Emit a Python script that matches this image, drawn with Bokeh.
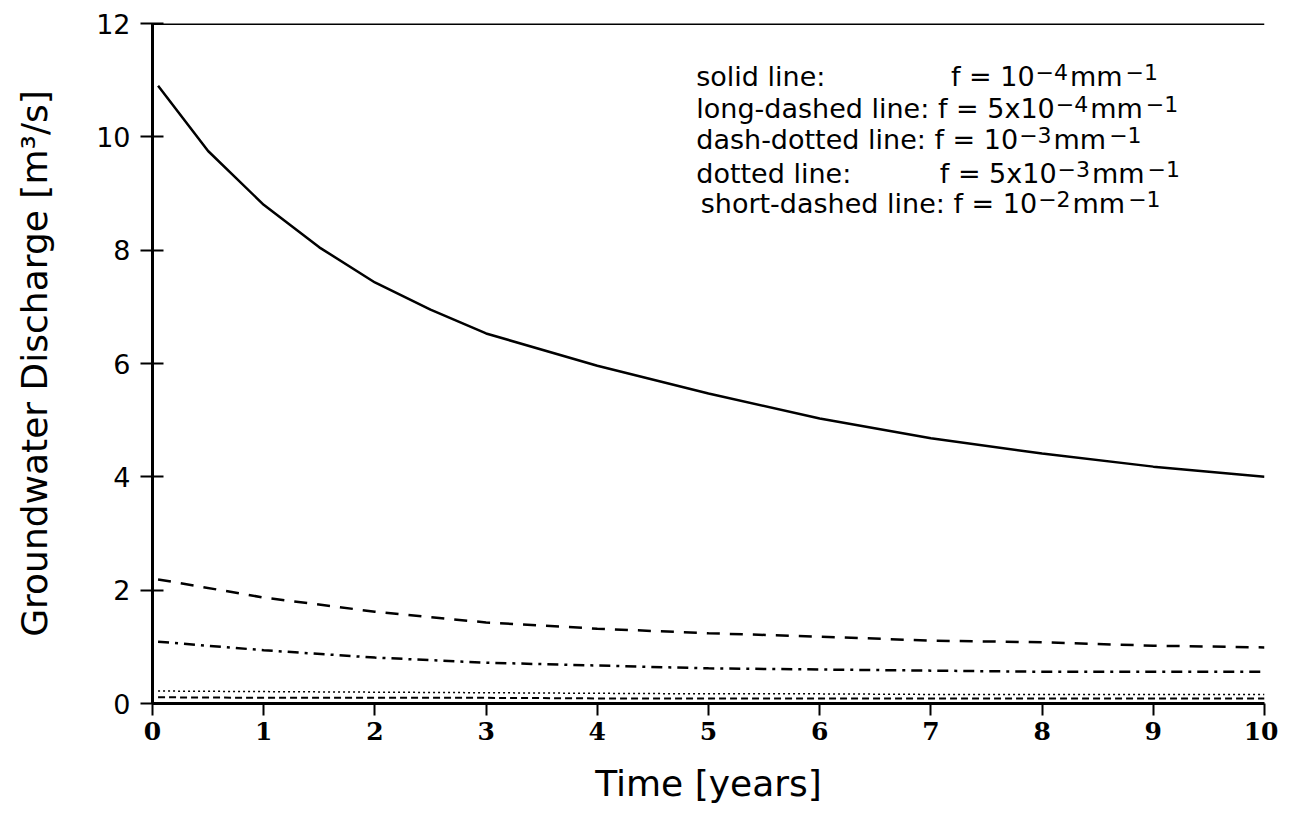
from bokeh.plotting import figure
from bokeh.models import Label, Span, FixedTicker, Range1d
from bokeh.embed import file_html
from bokeh.resources import INLINE

# Data
time_solid = [0.05, 0.5, 1, 1.5, 2, 2.5, 3, 4, 5, 6, 7, 8, 9, 10]
q_solid = [10.9, 9.75, 8.8, 8.05, 7.43, 6.95, 6.53, 5.96, 5.47, 5.03, 4.68, 4.41, 4.18, 4.0]

time_other = [0.05, 1, 2, 3, 4, 5, 6, 7, 8, 9, 10]
q_longdash = [2.19, 1.87, 1.62, 1.43, 1.32, 1.24, 1.18, 1.11, 1.08, 1.02, 0.99]
q_dashdot = [1.09, 0.94, 0.81, 0.72, 0.67, 0.62, 0.60, 0.58, 0.56, 0.56, 0.56]
q_dotted = [0.22, 0.21, 0.20, 0.19, 0.18, 0.17, 0.17, 0.16, 0.16, 0.16, 0.16]
q_shortdash = [0.11, 0.10, 0.10, 0.10, 0.09, 0.09, 0.09, 0.09, 0.09, 0.09, 0.09]

x_ticks = [0, 1, 2, 3, 4, 5, 6, 7, 8, 9, 10]
y_ticks = [0, 2, 4, 6, 8, 10, 12]

# legend rows: (name text, f-prefix, exponent1, exponent2)
legend_names = ["solid line:", "long-dashed line:", "dash-dotted line:", "dotted line:", "short-dashed line:"]
legend_prefix = ["f = 10", "f = 5x10", "f = 10", "f = 5x10", "f = 10"]
legend_exp = ["\u22124", "\u22124", "\u22123", "\u22123", "\u22122"]
legend_unit = "mm"
legend_unit_exp = "\u22121"

p = figure(width=1278, height=811, output_backend="svg", toolbar_location=None,
           x_range=Range1d(0, 10), y_range=Range1d(0, 12),
           min_border_left=152, min_border_right=14, min_border_top=23, min_border_bottom=108)
p.outline_line_color = None
p.grid.grid_line_color = None

black = "black"
p.line(time_solid, q_solid, line_color=black, line_width=2.5)
p.line(time_other, q_longdash, line_color=black, line_width=2.5, line_dash="13 10")
p.line(time_other, q_dashdot, line_color=black, line_width=2.5, line_dash="11 6 3 6")
p.line(time_other, q_dotted, line_color=black, line_width=1.5, line_dash="2 3")
p.line(time_other, q_shortdash, line_color=black, line_width=2, line_dash="7 4")

p.add_layout(Span(location=12, dimension="width", line_color=black, line_width=3))

# Axes
p.xaxis.ticker = FixedTicker(ticks=x_ticks)
p.yaxis.ticker = FixedTicker(ticks=y_ticks)
for ax in (p.xaxis[0], p.yaxis[0]):
    ax.axis_line_width = 3
    ax.axis_line_color = black
    ax.major_tick_line_width = 2
    ax.major_tick_line_color = black
    ax.minor_tick_line_color = None
    ax.major_label_text_color = black
    ax.axis_label_text_color = black
    ax.axis_label_text_font_style = "normal"
    ax.axis_label_text_font = "DejaVu Sans"
    ax.axis_label_text_font_size = "36px"

p.xaxis.major_tick_in = 0
p.xaxis.major_tick_out = 12
p.xaxis.major_label_text_font = "DejaVu Serif"
p.xaxis.major_label_text_font_style = "bold"
p.xaxis.major_label_text_font_size = "25px"
p.xaxis.major_label_standoff = 6
p.xaxis.axis_label = "Time [years]"
p.xaxis.axis_label_standoff = 20

p.yaxis.major_tick_in = 11
p.yaxis.major_tick_out = 12
p.yaxis.major_label_text_font = "DejaVu Sans"
p.yaxis.major_label_text_font_size = "27px"
p.yaxis.major_label_standoff = 10
p.yaxis.axis_label = "Groundwater Discharge [m\u00b3/s]"
p.yaxis.axis_label_standoff = 38

# Legend text block, composed of segments (superscripts raised)
W = {'f': 0.352, ' ': 0.318, '=': 0.838, '0': 0.636, '1': 0.636, '2': 0.636, '3': 0.636,
     '4': 0.636, '5': 0.636, 'x': 0.592, 'm': 0.974, '\u2212': 0.838}
WN = {'l': 0.278, 'o': 0.612, 'n': 0.634, 'g': 0.635, '-': 0.361, 'd': 0.635,
      'a': 0.613, 's': 0.521, 'h': 0.634, 'e': 0.615, ' ': 0.318, 'i': 0.278,
      ':': 0.337, 't': 0.392, 'r': 0.411}

def width(s, size, table=W):
    return sum(table.get(c, 0.6) for c in s) * size

FS = 27
SS = 22
RAISE = 12
leg_y = [10.8, 10.22, 9.68, 9.08, 8.55]
f_x = [7.18, None, None, 7.08, None]
name_x = [4.89, 4.89, 4.89, 4.89, 4.93]
font = "DejaVu Sans"
for i in range(5):
    p.add_layout(Label(x=name_x[i], y=leg_y[i], text=legend_names[i], text_font=font,
                       text_font_size=f"{FS}px", text_color=black))
    if f_x[i] is None:
        fx, off = name_x[i], width(legend_names[i] + " ", FS, WN)
    else:
        fx, off = f_x[i], 0
    p.add_layout(Label(x=fx, y=leg_y[i], x_offset=off, text=legend_prefix[i], text_font=font,
                       text_font_size=f"{FS}px", text_color=black))
    off += width(legend_prefix[i], FS) + 1
    p.add_layout(Label(x=fx, y=leg_y[i], x_offset=off, y_offset=RAISE, text=legend_exp[i],
                       text_font=font, text_font_size=f"{SS}px", text_color=black))
    off += width(legend_exp[i], SS) + 2
    p.add_layout(Label(x=fx, y=leg_y[i], x_offset=off, text=legend_unit, text_font=font,
                       text_font_size=f"{FS}px", text_color=black))
    off += width(legend_unit, FS) + 3
    p.add_layout(Label(x=fx, y=leg_y[i], x_offset=off, y_offset=RAISE, text=legend_unit_exp,
                       text_font=font, text_font_size=f"{SS}px", text_color=black))

open("out.html", "w").write(file_html(p, INLINE))
